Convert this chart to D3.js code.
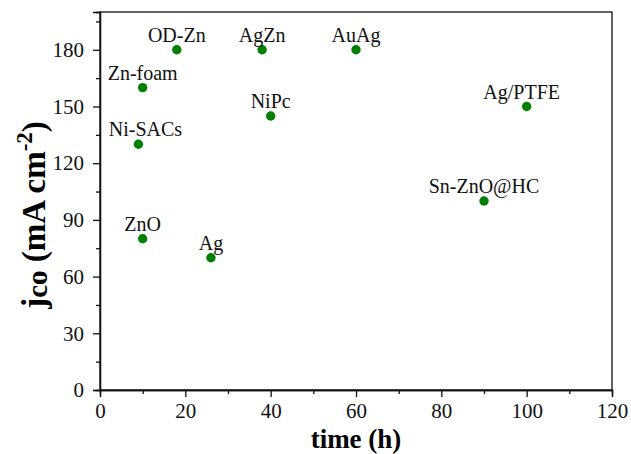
<!DOCTYPE html>
<html>
<head>
<meta charset="utf-8">
<script src="https://cdn.jsdelivr.net/npm/d3@7"></script>
<style>
  html, body { margin: 0; padding: 0; background: #fff; }
  svg { display: block; font-family: "Liberation Serif", "Times New Roman", serif; }
</style>
</head>
<body>
<svg id="chart" width="631" height="454"></svg>
<script>
// Catalysts: operating time (h) vs CO partial current density (mA cm^-2)
const catalysts = ["OD-Zn", "Zn-foam", "Ni-SACs", "ZnO", "Ag", "AgZn", "NiPc", "AuAg", "Ag/PTFE", "Sn-ZnO@HC"];
const timeHours = [18, 10, 9, 10, 26, 38, 40, 60, 100, 90];
const jCO       = [180, 160, 130, 80, 70, 180, 145, 180, 150, 100];

const xTicks = [0, 20, 40, 60, 80, 100, 120];
const yTicks = [0, 30, 60, 90, 120, 150, 180];

// small horizontal nudges so neighbouring labels do not collide
const labelNudge = { "Ni-SACs": 7, "Ag/PTFE": -5 };

const svg = d3.select("#chart");
const margin = { left: 100, right: 19, top: 12, bottom: 64 };
const W = 631, H = 454;
const x = d3.scaleLinear().domain([0, 120]).range([margin.left, W - margin.right]);
const y = d3.scaleLinear().domain([0, 200]).range([H - margin.bottom, margin.top]);

const axisColor = "#111";
const serif = "'Liberation Serif', 'Times New Roman', serif";

// frame
svg.append("rect")
  .attr("x", x(0)).attr("y", y(200))
  .attr("width", x(120) - x(0)).attr("height", y(0) - y(200))
  .attr("fill", "none").attr("stroke", axisColor).attr("stroke-width", 1.3);

// x axis: major + minor ticks
const xMinor = d3.axisBottom(x).tickValues(d3.range(10, 120, 20)).tickSize(4).tickFormat("");
const xMajor = d3.axisBottom(x).tickValues(xTicks).tickSize(7).tickPadding(6);
const gxMinor = svg.append("g").attr("transform", `translate(0,${y(0)})`).call(xMinor);
const gx = svg.append("g").attr("transform", `translate(0,${y(0)})`).call(xMajor);

// y axis: major + minor ticks
const yMinor = d3.axisLeft(y).tickValues(d3.range(15, 200, 30)).tickSize(4).tickFormat("");
const yMajor = d3.axisLeft(y).tickValues(yTicks).tickSize(7).tickPadding(9);
const gyMinor = svg.append("g").attr("transform", `translate(${x(0)},0)`).call(yMinor);
const gy = svg.append("g").attr("transform", `translate(${x(0)},0)`).call(yMajor);

[gx, gy, gxMinor, gyMinor].forEach(g => {
  g.attr("font-family", serif);
  g.select(".domain").attr("stroke", axisColor).attr("stroke-width", 1.3);
  g.selectAll(".tick line").attr("stroke", axisColor).attr("stroke-width", 1.3);
  g.selectAll(".tick text")
    .attr("fill", "#111")
    .style("font-family", serif)
    .style("font-size", "21px");
});

// axis titles
svg.append("text")
  .attr("x", (x(0) + x(120)) / 2).attr("y", 448)
  .attr("text-anchor", "middle")
  .style("font-size", "27px").style("font-weight", "bold")
  .text("time (h)");

const yt = svg.append("text")
  .attr("transform", "translate(45,215) rotate(-90)")
  .attr("text-anchor", "middle")
  .style("font-size", "33px").style("font-weight", "bold");
yt.append("tspan").text("j");
yt.append("tspan").text("co").style("font-size", "29px").attr("dy", 2);
yt.append("tspan").text(" (mA cm").attr("dy", -2);
yt.append("tspan").text("-2").style("font-size", "23px").attr("dy", -13);
yt.append("tspan").text(")").attr("dy", 13);

// points
const pts = catalysts.map((name, i) => ({ name, t: timeHours[i], j: jCO[i] }));

svg.append("g").selectAll("circle")
  .data(pts).join("circle")
  .attr("cx", d => x(d.t)).attr("cy", d => y(d.j))
  .attr("r", 4.7).attr("fill", "#008000");

svg.append("g").selectAll("text")
  .data(pts).join("text")
  .attr("x", d => x(d.t) + (labelNudge[d.name] || 0))
  .attr("y", d => y(d.j) - 8)
  .attr("text-anchor", "middle")
  .style("font-family", serif)
  .style("font-size", "20px").attr("fill", "#111")
  .text(d => d.name);
</script>
</body>
</html>
